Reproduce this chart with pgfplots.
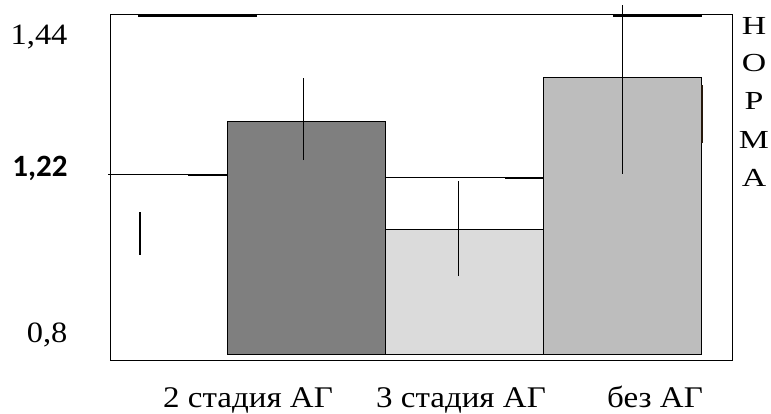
\documentclass[border=0pt]{standalone}
\usepackage{pgfplots}
\pgfplotsset{compat=1.18}
\usepackage{fontspec}
\setmainfont[FakeStretch=1.1]{Liberation Serif}
\newfontfamily\widefont[FakeStretch=1.3]{Liberation Serif}
\newfontfamily\boldsans{Carlito}
\definecolor{barA}{HTML}{7F7F7F}
\definecolor{barB}{HTML}{DBDBDB}
\definecolor{barC}{HTML}{BDBDBD}
\begin{document}
\begin{tikzpicture}[x=1pt,y=1pt]
\path[use as bounding box] (0,0) rectangle (771,414);
\begin{axis}[
  at={(111pt,53pt)}, anchor=south west,
  scale only axis, width=621pt, height=346pt,
  xmin=-0.2342, xmax=3.6962, ymin=0.96425, ymax=1.44,
  clip=false,
  axis line style={black, line width=1pt},
  major tick length=0pt,
  xtick={0.633,1.981,3.209},
  xticklabels={2 стадия АГ, 3 стадия АГ, без АГ},
  ytick={0.989,1.21725,1.39875},
  yticklabels={{0,8\hspace{4pt}},{\boldsans\bfseries\fontsize{31}{32}\selectfont 1,22},{1,44}},
  xticklabel style={font=\fontsize{30}{31}\selectfont, anchor=base, yshift=-47pt},
  yticklabel style={font=\fontsize{29.5}{30}\selectfont, anchor=base east, xshift=-40pt},
]
% bars
\addplot[draw=black, line width=1pt, fill=barA] coordinates {(0.5,0.9725) (1.5,0.9725) (1.5,1.2929) (0.5,1.2929)} -- cycle;
\addplot[draw=black, line width=1pt, fill=barB] coordinates {(1.5,0.9725) (2.5,0.9725) (2.5,1.1444) (1.5,1.1444)} -- cycle;
\addplot[draw=black, line width=1pt, fill=barC] coordinates {(2.5,0.9725) (3.5,0.9725) (3.5,1.3534) (2.5,1.3534)} -- cycle;
% norm lines
\addplot[black, line width=1pt] coordinates {(-0.253,1.22) (0.5,1.22)};
\addplot[black, line width=2pt] coordinates {(0.253,1.22) (0.5,1.22)};
\addplot[black, line width=1pt] coordinates {(1.5,1.215875) (2.5,1.215875)};
\addplot[black, line width=2pt] coordinates {(2.259,1.215875) (2.5,1.215875)};
\addplot[black, line width=2pt] coordinates {(-0.0633,1.4393) (0.6899,1.4393)};
\addplot[black, line width=2pt] coordinates {(2.943,1.4393) (3.506,1.4393)};
\addplot[black!80!brown, line width=2pt] coordinates {(3.506,1.264) (3.506,1.34375)};
% error bars
\addplot[black, line width=1pt] coordinates {(0.981,1.2406) (0.981,1.3534)};
\addplot[black, line width=1pt] coordinates {(1.962,1.0811) (1.962,1.2118)};
\addplot[black, line width=1pt] coordinates {(3.0,1.2214) (3.0,1.4537)};
\addplot[black, line width=2pt] coordinates {(-0.0506,1.11) (-0.0506,1.1691)};
\end{axis}
\begin{scope}[every node/.style={font=\widefont\fontsize{26}{28}\selectfont, inner sep=0pt, anchor=base}]
\node at (754,379) {Н};
\node at (754,342) {О};
\node at (754,304) {Р};
\node at (754,265) {М};
\node at (754,227) {А};
\end{scope}
\end{tikzpicture}
\end{document}
